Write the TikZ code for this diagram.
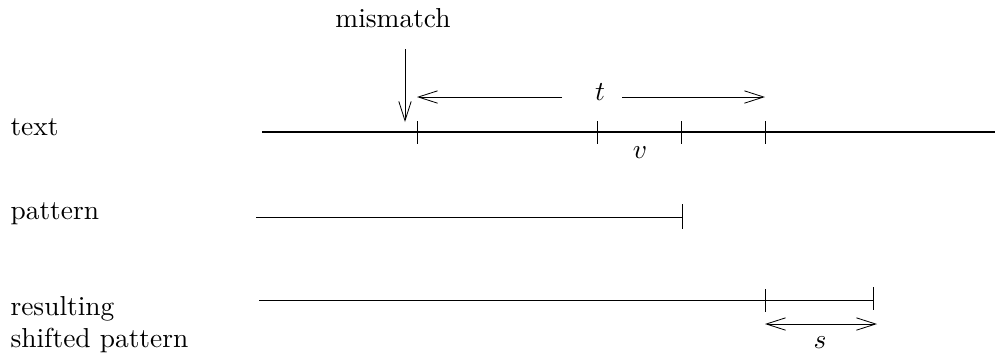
\documentclass[tikz,border=0pt]{standalone}
\usetikzlibrary{arrows.meta, positioning}

\begin{document}
\begin{tikzpicture}[x=0.01282cm, y=-0.01282cm,
    barb/.style={-{Straight Barb[length=7pt,width=4.5pt]}, line width=0.3pt},
    dblbarb/.style={{Straight Barb[length=7pt,width=4.5pt]}-{Straight Barb[length=7pt,width=4.5pt]}, line width=0.3pt},
    seg/.style={line width=0.3pt},
    rowlabel/.style={anchor=base west, inner sep=0pt}]

    \useasboundingbox (0,0) rectangle (995,354);

    % --- Row labels ---
    \node[rowlabel] (lbltext) at (10,135) {text};
    \node[rowlabel] (lblpat) at (10,219) {pattern};
    \node[rowlabel] (lblres) at (10,315) {resulting};
    \node[rowlabel] (lblshift) at (10,347) {shifted pattern};

    % --- Mismatch arrow ---
    \node[anchor=base, inner sep=0pt] (mis) at (393,27) {mismatch};
    \coordinate (mistop) at (405,49);
    \coordinate (misbot) at (405,122);
    \draw[barb] (mistop) -- (misbot);

    % --- Text line with ticks ---
    \coordinate (textL) at (262,132);
    \coordinate (textR) at (995,132);
    \draw[line width=0.4pt] (textL) -- (textR);
    \foreach \n/\x in {a/417, b/597, c/681, d/765} {
        \coordinate (top\n) at (\x,121);
        \coordinate (bot\n) at (\x,144);
        \draw[seg] (top\n) -- (bot\n);
    }

    % t spans the window
    \node[inner sep=0pt] (tlab) at (600,92) {$t$};
    \coordinate (tl) at (562,97);
    \coordinate (tr) at (622,97);
    \draw[barb] (tl) -- (topa |- tl);
    \draw[barb] (tr) -- (topd |- tr);

    % v between ticks
    \node[anchor=base, inner sep=0pt] (vlab) at (640,158) {$v$};

    % --- Pattern ---
    \coordinate (patL) at (256,217);
    \coordinate (patR) at (682,217);
    \coordinate (pattop) at (682,204);
    \coordinate (patbot) at (682,229);
    \draw[seg] (patL) -- (patR);
    \draw[seg] (pattop) -- (patbot);

    % --- Shifted pattern ---
    \coordinate (resL) at (259,300);
    \coordinate (resR) at (873,300);
    \draw[seg] (resL) -- (resR);
    \coordinate (rtopa) at (765,289);
    \coordinate (rbota) at (765,312);
    \coordinate (rtopb) at (873,287);
    \coordinate (rbotb) at (873,310);
    \draw[seg] (rtopa) -- (rbota);
    \draw[seg] (rtopb) -- (rbotb);

    % s = shift
    \coordinate (sl) at (765,324);
    \coordinate (sr) at (877,324);
    \draw[dblbarb] (sl) -- (sr);
    \node[anchor=base, inner sep=0pt] (slab) at (820,348) {$s$};

\end{tikzpicture}
\end{document}
